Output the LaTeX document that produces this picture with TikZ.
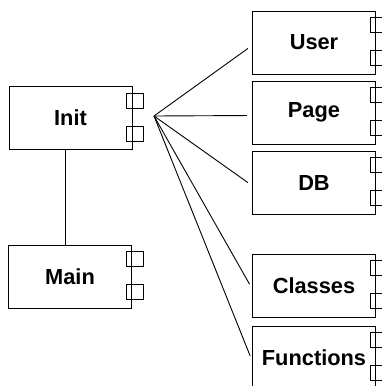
\documentclass[tikz,border=0pt]{standalone}
\usepackage{fontspec}
\setmainfont{Liberation Sans}
\usetikzlibrary{calc}

\begin{document}
\begin{tikzpicture}[x=1pt,y=-1pt,
		comp/.style={draw, line width=1pt, minimum width=123pt,
		minimum height=63pt, inner sep=0pt,
		font=\fontsize{21.8}{26}\selectfont\bfseries},
		port/.style={draw, line width=1pt},
		wire/.style={draw, line width=0.9pt, shorten >=5pt}]
		\clip (0,0) rectangle (382,386);
		% components
		\node[comp] (init) at (70.5,118) {Init};
		\node[comp] (main) at (70,276.5) {Main};
		\node[comp] (user) at (314,42.5) {User};
		\node[comp] (page) at (314,112.5) {Page};
		\node[comp] (db) at (314,182.5) {DB};
		\node[comp] (classes) at (314,285.5) {Classes};
		\node[comp] (functions) at (314,357.5) {Functions};
		% ports
		\foreach \n in {init,main,user,page,db,classes,functions} {
			\draw[port] ($(\n.north east)+(-6,7)$) rectangle +(17,15);
			\draw[port] ($(\n.north east)+(-6,40)$) rectangle +(17,15);
		}
		% links
		\draw[wire, shorten >=0pt] ([xshift=-5.5pt]init.south) -- ([xshift=-5pt]main.north);
		\coordinate (hub) at (154,116);
		\foreach \n in {user,page,db,classes,functions}
			\draw[wire] (hub) -- ([yshift=-3pt]\n.west);
	\end{tikzpicture}
\end{document}
